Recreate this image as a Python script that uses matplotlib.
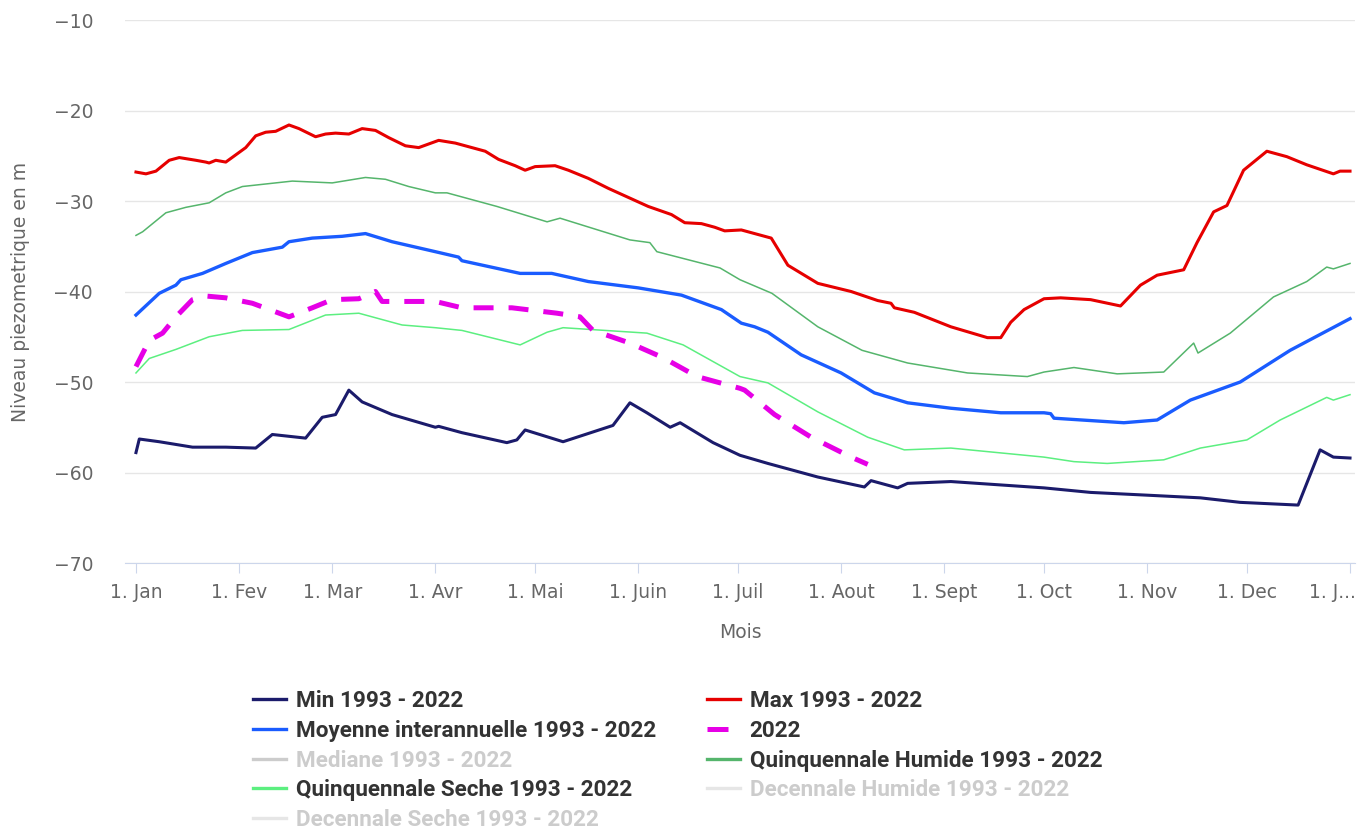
import matplotlib
matplotlib.use("Agg")
import matplotlib.pyplot as plt
import matplotlib.transforms as mtransforms
from matplotlib.lines import Line2D

# day of year (0 = 1 Jan) and level in m
max_days = [0, 3, 6, 10, 13, 18, 21, 22, 24, 27, 30, 33, 36, 39, 42, 46, 49, 54, 57, 60,
            64, 68, 72, 76, 81, 85, 91, 96, 100, 105, 109, 114, 117, 120, 126, 130, 136, 142,
            148, 154, 161, 165, 170, 174, 177, 182, 191, 196, 205, 215, 223, 227, 228, 234,
            245, 256, 260, 263, 267, 273, 278, 287, 296, 302, 307, 315, 319, 324, 328, 333,
            336, 340, 346, 352, 360, 362, 365]
max_vals = [-26.8, -27.0, -26.7, -25.5, -25.2, -25.5, -25.7, -25.8, -25.5, -25.7, -24.9, -24.1,
            -22.8, -22.4, -22.3, -21.6, -22.0, -22.9, -22.6, -22.5, -22.6, -22.0, -22.2, -23.0,
            -23.9, -24.1, -23.3, -23.6, -24.0, -24.5, -25.4, -26.1, -26.6, -26.2, -26.1, -26.6,
            -27.5, -28.6, -29.6, -30.6, -31.5, -32.4, -32.5, -32.9, -33.3, -33.2, -34.1, -37.1,
            -39.1, -40.0, -41.0, -41.3, -41.8, -42.3, -43.9, -45.1, -45.1, -43.4, -42.0, -40.8,
            -40.7, -40.9, -41.6, -39.3, -38.2, -37.6, -34.6, -31.2, -30.5, -26.6, -25.7, -24.5,
            -25.1, -26.0, -27.0, -26.7, -26.7]

moy_days = [0, 7, 12, 13.5, 20, 27, 35, 44, 46, 53, 62, 69, 77, 90, 97, 98, 115.5, 125, 136,
            151, 164, 176, 182, 186, 190, 200, 212, 222, 232, 245, 260, 273, 275, 276, 297,
            307, 317, 332, 347, 365]
moy_vals = [-42.6, -40.2, -39.3, -38.7, -38.0, -36.9, -35.7, -35.1, -34.5, -34.1, -33.9, -33.6,
            -34.5, -35.6, -36.2, -36.6, -38.0, -38.0, -38.9, -39.6, -40.4, -42.0, -43.5, -43.9,
            -44.5, -47.0, -49.0, -51.2, -52.3, -52.9, -53.4, -53.4, -53.5, -54.0, -54.5, -54.2,
            -52.0, -50.0, -46.5, -43.0]

min_days = [0, 1, 7, 17, 27, 36, 41, 51, 56, 60, 64, 68, 77, 90, 91, 98, 111.5, 114.5, 117,
            128.4, 143.4, 148.5, 153.6, 160.6, 163.6, 173.5, 181.6, 190, 205, 219, 221, 229,
            232, 245, 273, 287, 303.7, 320, 332, 349.4, 356, 360, 365]
min_vals = [-57.8, -56.3, -56.6, -57.2, -57.2, -57.3, -55.8, -56.2, -53.9, -53.6, -50.9, -52.2,
            -53.6, -55.0, -54.9, -55.6, -56.7, -56.4, -55.3, -56.6, -54.8, -52.3, -53.4, -55.0,
            -54.5, -56.7, -58.1, -59.0, -60.5, -61.6, -60.9, -61.7, -61.2, -61.0, -61.7, -62.2,
            -62.5, -62.8, -63.3, -63.6, -57.5, -58.3, -58.4]

qh_days = [0, 2, 9, 15, 22, 27, 32, 42, 47, 59, 69, 75, 82, 90, 93.5, 108.5, 123.6, 127.5,
           148.5, 154.5, 156.6, 175.6, 181.6, 191.2, 205, 218.3, 232, 250, 268, 273, 282, 295,
           309, 318, 319.3, 329, 342, 352, 358, 360, 365]
qh_vals = [-33.8, -33.4, -31.3, -30.7, -30.2, -29.1, -28.4, -28.0, -27.8, -28.0, -27.4, -27.6,
           -28.4, -29.1, -29.1, -30.6, -32.3, -31.9, -34.3, -34.6, -35.6, -37.4, -38.7, -40.2,
           -43.9, -46.5, -47.9, -49.0, -49.4, -48.9, -48.4, -49.1, -48.9, -45.7, -46.8, -44.6,
           -40.6, -38.9, -37.3, -37.5, -36.9]

qs_days = [0, 4, 12, 22, 32, 46, 57, 67, 80, 90, 98, 115.5, 123.6, 128.4, 153.6, 164.5, 181.6,
           190, 205, 220, 231, 245, 273, 282, 292, 309, 320, 334, 344, 358, 360, 365]
qs_vals = [-49.0, -47.4, -46.4, -45.0, -44.3, -44.2, -42.6, -42.4, -43.7, -44.0, -44.3, -45.9,
           -44.5, -44.0, -44.6, -45.9, -49.4, -50.1, -53.3, -56.1, -57.5, -57.3, -58.3, -58.8,
           -59.0, -58.6, -57.3, -56.4, -54.2, -51.7, -52.0, -51.4]

y2022_days = [0, 4, 8, 12, 17, 21, 27, 35, 46, 53, 59, 67, 72, 74, 90, 98, 113, 126.6, 133.5,
              137.4, 148.5, 158.4, 168.7, 181.6, 183, 192, 203, 215, 220]
y2022_vals = [-48.3, -45.4, -44.6, -42.8, -40.9, -40.5, -40.7, -41.3, -42.8, -41.8, -40.9, -40.8,
              -40.0, -41.1, -41.1, -41.8, -41.8, -42.4, -42.8, -44.3, -45.7, -47.3, -49.4, -50.7,
              -50.9, -53.6, -56.1, -58.3, -59.1]

month_days = [0, 31, 59, 90, 120, 151, 181, 212, 243, 273, 304, 334, 365]
month_labels = ["1. Jan", "1. Fev", "1. Mar", "1. Avr", "1. Mai", "1. Juin", "1. Juil",
                "1. Aout", "1. Sept", "1. Oct", "1. Nov", "1. Dec", "1. J..."]

c_min = "#1b1b6b"
c_max = "#e60000"
c_moy = "#1a5cff"
c_2022 = "#e600e6"
c_qh = "#55b56c"
c_qs = "#5cef80"
c_hidden = "#cccccc"

fig = plt.figure(figsize=(13.6, 8.3), dpi=100)
ax = fig.add_axes([125 / 1360, 1 - 563 / 830, (1355 - 125) / 1360, (563 - 20) / 830])

ax.plot(qh_days, qh_vals, color=c_qh, lw=1.1)
ax.plot(qs_days, qs_vals, color=c_qs, lw=1.1)
ax.plot(max_days, max_vals, color=c_max, lw=2.2)
ax.plot(moy_days, moy_vals, color=c_moy, lw=2.4)
ax.plot(min_days, min_vals, color=c_min, lw=2.2)
ax.plot(y2022_days, y2022_vals, color=c_2022, lw=3.6, dashes=(4, 3))

ax.set_xlim(-3.3, 366.5)
ax.set_ylim(-70, -10)
ax.set_yticks(range(-70, -9, 10))
ax.set_xticks(month_days)
ax.set_xticklabels(month_labels)
ax.grid(axis="y", color="#e6e6e6", lw=1)
ax.set_axisbelow(True)
for s in ["top", "right", "left"]:
    ax.spines[s].set_visible(False)
ax.spines["bottom"].set_color("#ccd6eb")
ax.tick_params(axis="x", length=7.2, color="#ccd6eb", pad=7, labelsize=13.5, labelcolor="#666666")
ax.tick_params(axis="y", length=0, pad=23, labelsize=13.5, labelcolor="#666666")

# last label is shortened and pulled inside like in the original
last = ax.get_xticklabels()[-1]
last.set_horizontalalignment("right")
last.set_transform(last.get_transform() + mtransforms.ScaledTranslation(6 / 100, 0, fig.dpi_scale_trans))

ax.set_xlabel("Mois", fontsize=13.5, color="#666666")
ax.xaxis.set_label_coords(0.5, -0.11)
ax.set_ylabel("Niveau piezometrique en m", fontsize=13.5, color="#666666")
ax.yaxis.set_label_coords(-0.077, 0.5)

# legend: two columns, hidden series greyed out
col1 = [("Min 1993 - 2022", c_min, "-", True),
        ("Moyenne interannuelle 1993 - 2022", c_moy, "-", True),
        ("Mediane 1993 - 2022", c_hidden, "-", False),
        ("Quinquennale Seche 1993 - 2022", c_qs, "-", True),
        ("Decennale Seche 1993 - 2022", "#e6e6e6", "-", False)]
col2 = [("Max 1993 - 2022", c_max, "-", True),
        ("2022", c_2022, "--", True),
        ("Quinquennale Humide 1993 - 2022", c_qh, "-", True),
        ("Decennale Humide 1993 - 2022", "#e6e6e6", "-", False)]

fam = ["Roboto", "DejaVu Sans"]


def make_legend(items, x, y):
    handles = []
    for lab, col, ls, vis in items:
        if ls == "--":
            h = Line2D([], [], color=col, lw=3.6, dashes=(4.2, 3))
        else:
            h = Line2D([], [], color=col, lw=2.4)
        handles.append(h)
    leg = fig.legend(handles, [i[0] for i in items], loc="upper left",
                     bbox_to_anchor=(x / 1360, 1 - y / 830), frameon=False,
                     prop={"family": fam, "weight": "bold", "size": 16.2},
                     handlelength=1.45, handletextpad=0.45, labelspacing=0.345,
                     borderaxespad=0, borderpad=0)
    for t, it in zip(leg.get_texts(), items):
        t.set_color("#333333" if it[3] else "#cccccc")
    return leg


make_legend(col1, 253, 690)
make_legend(col2, 707, 690)

fig.savefig("out.png", dpi=100)
